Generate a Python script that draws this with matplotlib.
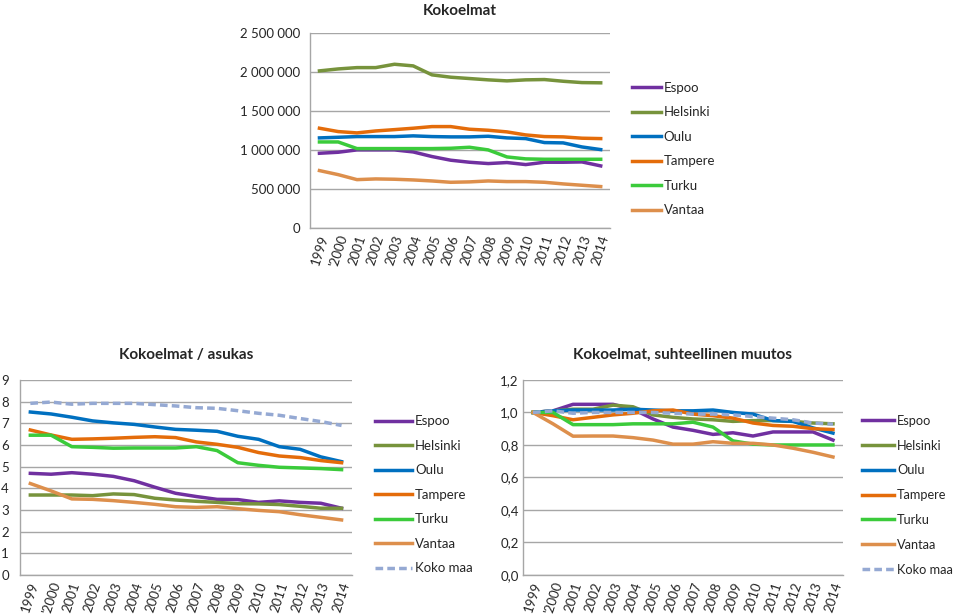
import numpy as np
import matplotlib
matplotlib.use("Agg")
import matplotlib.pyplot as plt
from matplotlib.ticker import FuncFormatter

plt.rcParams['font.family'] = ['Lato', 'DejaVu Sans']

# --- data ---
years = ['1999', "'2000", '2001', '2002', '2003', '2004', '2005', '2006',
         '2007', '2008', '2009', '2010', '2011', '2012', '2013', '2014']
cities = ['Espoo', 'Helsinki', 'Oulu', 'Tampere', 'Turku', 'Vantaa']
colors = {'Espoo': '#7030A0', 'Helsinki': '#77933C', 'Oulu': '#0070C0',
          'Tampere': '#E46C0A', 'Turku': '#3BCB3B', 'Vantaa': '#DD8F4C',
          'Koko maa': '#95A9D3'}

# Kokoelmat (kpl)
koko_espoo = [957000, 970000, 1000000, 1000000, 1000000, 974000, 915000, 868000,
              842000, 825000, 838000, 812000, 842000, 842000, 846000, 795000]
koko_helsinki = [2013000, 2038000, 2055000, 2055000, 2098000, 2077000, 1962000, 1932000,
                 1915000, 1898000, 1885000, 1898000, 1902000, 1880000, 1863000, 1860000]
koko_oulu = [1154000, 1162000, 1171000, 1171000, 1171000, 1180000, 1171000, 1167000,
             1167000, 1175000, 1154000, 1145000, 1094000, 1090000, 1038000, 1004000]
koko_tampere = [1278000, 1235000, 1218000, 1243000, 1260000, 1278000, 1299000, 1299000,
                1265000, 1252000, 1231000, 1192000, 1171000, 1167000, 1150000, 1145000]
koko_turku = [1102000, 1102000, 1017000, 1017000, 1017000, 1017000, 1017000, 1021000,
              1034000, 1000000, 910000, 885000, 880000, 880000, 880000, 880000]
koko_vantaa = [735000, 683000, 619000, 628000, 624000, 615000, 602000, 585000,
               590000, 602000, 594000, 594000, 585000, 564000, 547000, 530000]

# Kokoelmat / asukas
as_espoo = [4.69, 4.65, 4.72, 4.65, 4.55, 4.35, 4.05, 3.77, 3.62, 3.49, 3.48, 3.35, 3.42, 3.35, 3.31, 3.08]
as_helsinki = [3.69, 3.69, 3.69, 3.66, 3.74, 3.71, 3.54, 3.46, 3.40, 3.35, 3.29, 3.28, 3.25, 3.17, 3.08, 3.08]
as_oulu = [7.52, 7.43, 7.28, 7.11, 7.02, 6.95, 6.83, 6.72, 6.68, 6.63, 6.40, 6.26, 5.92, 5.80, 5.45, 5.23]
as_tampere = [6.69, 6.46, 6.26, 6.28, 6.31, 6.35, 6.38, 6.34, 6.14, 6.03, 5.89, 5.65, 5.49, 5.42, 5.28, 5.18]
as_turku = [6.45, 6.45, 5.92, 5.89, 5.85, 5.86, 5.86, 5.86, 5.92, 5.74, 5.18, 5.06, 4.97, 4.94, 4.91, 4.86]
as_vantaa = [4.22, 3.88, 3.51, 3.49, 3.43, 3.35, 3.26, 3.15, 3.12, 3.15, 3.06, 2.98, 2.92, 2.78, 2.66, 2.54]
as_kokomaa = [7.92, 7.98, 7.88, 7.92, 7.92, 7.92, 7.86, 7.80, 7.72, 7.69, 7.58, 7.46, 7.37, 7.22, 7.08, 6.90]

# Kokoelmat, suhteellinen muutos
rel_espoo = [1.0, 1.01, 1.05, 1.05, 1.05, 1.02, 0.96, 0.91, 0.89, 0.865, 0.875, 0.855, 0.88, 0.88, 0.88, 0.83]
rel_helsinki = [1.0, 1.01, 1.02, 1.02, 1.045, 1.035, 0.985, 0.97, 0.96, 0.955, 0.945, 0.95, 0.95, 0.945, 0.935, 0.93]
rel_oulu = [1.0, 1.01, 1.015, 1.015, 1.015, 1.02, 1.015, 1.01, 1.01, 1.015, 1.0, 0.99, 0.95, 0.945, 0.905, 0.873]
rel_tampere = [1.0, 0.98, 0.955, 0.97, 0.985, 0.995, 1.01, 1.015, 0.99, 0.98, 0.965, 0.935, 0.92, 0.915, 0.9, 0.895]
rel_turku = [1.0, 1.0, 0.925, 0.925, 0.925, 0.93, 0.93, 0.93, 0.94, 0.91, 0.825, 0.805, 0.8, 0.8, 0.8, 0.8]
rel_vantaa = [1.0, 0.93, 0.854, 0.855, 0.855, 0.845, 0.83, 0.805, 0.805, 0.82, 0.81, 0.81, 0.8, 0.78, 0.755, 0.726]
rel_kokomaa = [1.0, 1.01, 0.995, 1.0, 1.0, 1.0, 1.0, 0.995, 0.99, 0.99, 0.985, 0.975, 0.965, 0.955, 0.935, 0.928]

top_series = [koko_espoo, koko_helsinki, koko_oulu, koko_tampere, koko_turku, koko_vantaa]
left_series = [as_espoo, as_helsinki, as_oulu, as_tampere, as_turku, as_vantaa, as_kokomaa]
right_series = [rel_espoo, rel_helsinki, rel_oulu, rel_tampere, rel_turku, rel_vantaa, rel_kokomaa]

GRID = '#A6A6A6'
TXT = '#262626'


def style_axes(ax, title, yticks, fmt, ypad, tpad=15):
    x = np.arange(len(years))
    ax.set_xlim(-0.5, len(years) - 0.5)
    ax.set_xticks(x)
    ax.set_xticklabels(years, rotation=72, ha='center', va='top', fontsize=9.5, color=TXT)
    ax.set_yticks(yticks)
    ax.set_ylim(yticks[0], yticks[-1])
    ax.yaxis.set_major_formatter(FuncFormatter(fmt))
    ax.tick_params(axis='both', length=0, labelsize=9.5, colors=TXT)
    ax.tick_params(axis='y', pad=ypad)
    ax.tick_params(axis='x', pad=4)
    ax.grid(axis='y', color=GRID, lw=1)
    ax.set_axisbelow(True)
    for s in ['top', 'right']:
        ax.spines[s].set_visible(False)
    for s in ['left', 'bottom']:
        ax.spines[s].set_color(GRID)
        ax.spines[s].set_linewidth(1)
    ax.set_title(title, fontsize=11, fontweight='bold', color=TXT, pad=tpad)


def draw(ax, series, names):
    x = np.arange(len(years))
    for vals, name in zip(series, names):
        if name == 'Koko maa':
            ax.plot(x, vals, color=colors[name], lw=2.5, ls=(0, (2.2, 1.2)), label=name, zorder=3)
        else:
            ax.plot(x, vals, color=colors[name], lw=2.5, label=name, zorder=3)


fig = plt.figure(figsize=(9.6, 6.16), dpi=100)

ax1 = fig.add_axes([0.323, 0.630, 0.3125, 0.3166])
draw(ax1, top_series, cities)
style_axes(ax1, 'Kokoelmat', [0, 500000, 1000000, 1500000, 2000000, 2500000],
           lambda v, p: '0' if v == 0 else f'{int(v):,}'.replace(',', ' '), ypad=7, tpad=13)
ax1.legend(loc='upper left', bbox_to_anchor=(1.035, 0.81), frameon=False, fontsize=9.5,
           handlelength=2.2, handletextpad=0.15, labelspacing=0.95, labelcolor=TXT)

ax2 = fig.add_axes([0.0208, 0.0666, 0.3458, 0.3166])
draw(ax2, left_series, cities + ['Koko maa'])
style_axes(ax2, 'Kokoelmat / asukas', list(range(0, 10)), lambda v, p: f'{int(v)}', ypad=8)
ax2.legend(loc='upper left', bbox_to_anchor=(1.035, 0.88), frameon=False, fontsize=9.5,
           handlelength=2.8, handletextpad=0.2, labelspacing=0.95, labelcolor=TXT)

ax3 = fig.add_axes([0.5448, 0.0666, 0.3333, 0.3166])
draw(ax3, right_series, cities + ['Koko maa'])
style_axes(ax3, 'Kokoelmat, suhteellinen muutos', [0, 0.2, 0.4, 0.6, 0.8, 1.0, 1.2],
           lambda v, p: f'{v:.1f}'.replace('.', ','), ypad=3)
ax3.legend(loc='upper left', bbox_to_anchor=(1.025, 0.88), frameon=False, fontsize=9.2,
           handlelength=2.5, handletextpad=0.2, labelspacing=1.0, labelcolor=TXT)

fig.savefig('out.png', dpi=100)
